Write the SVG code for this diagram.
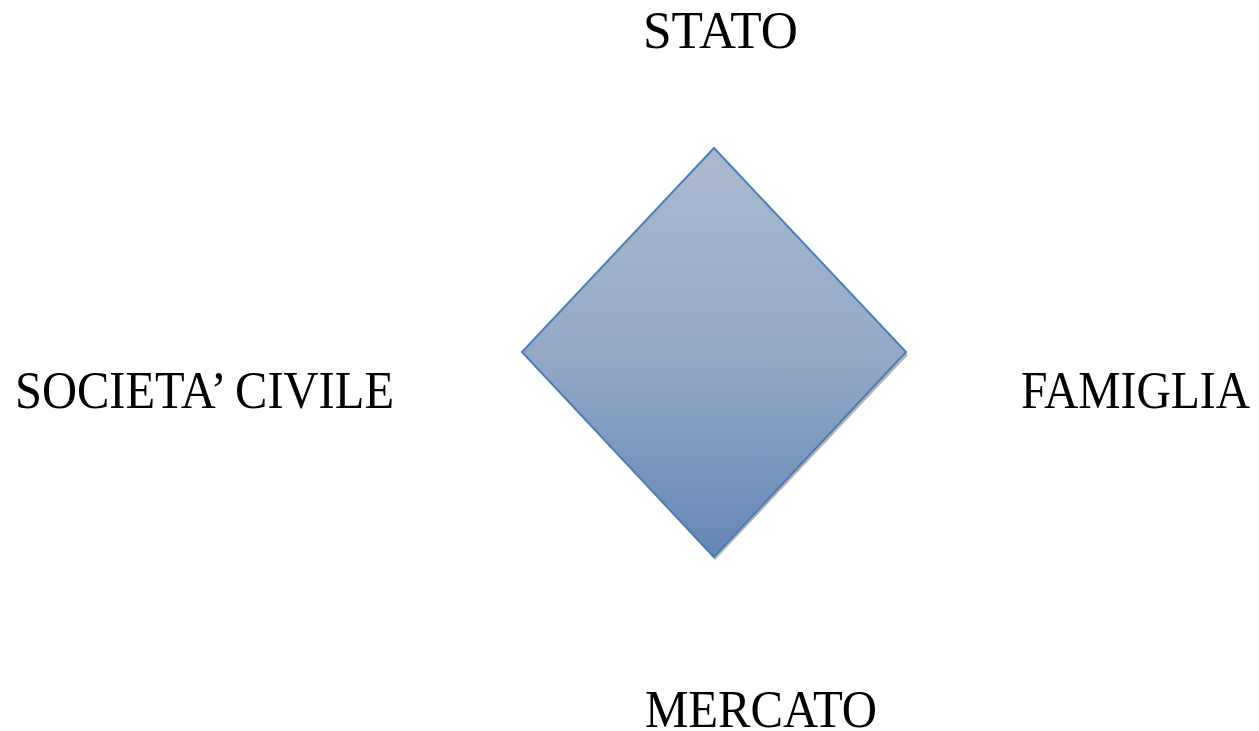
<svg xmlns="http://www.w3.org/2000/svg" width="1259" height="731" viewBox="0 0 1259 731">
<defs>
<linearGradient id="g" x1="0" y1="0" x2="0" y2="1">
<stop offset="0" stop-color="#aabad0"/>
<stop offset="0.5" stop-color="#94a9c6"/>
<stop offset="1" stop-color="#6587b5"/>
</linearGradient>
<style>
.lbl{font-family:"Liberation Serif","DejaVu Serif",serif;font-size:53px;fill:#000}
</style>
</defs>
<rect width="1259" height="731" fill="#fff"/>
<g id="diamond">
<polygon points="715,151 908,355 715,560 524,355" fill="#a8a8a8" opacity="0.85"/>
<polygon points="714,148 906,352 714,557 522,352" fill="url(#g)" stroke="#4a7ebb" stroke-width="2"/>
</g>
<g id="stato"><text class="lbl" x="643" y="48" textLength="155" lengthAdjust="spacingAndGlyphs">STATO</text></g>
<g id="societa"><text class="lbl" x="15" y="408" textLength="379" lengthAdjust="spacingAndGlyphs">SOCIETA’ CIVILE</text></g>
<g id="famiglia"><text class="lbl" x="1021" y="408" textLength="229" lengthAdjust="spacingAndGlyphs">FAMIGLIA</text></g>
<g id="mercato"><text class="lbl" x="645" y="727" textLength="232" lengthAdjust="spacingAndGlyphs">MERCATO</text></g>
<g id="connectors"/>
</svg>
